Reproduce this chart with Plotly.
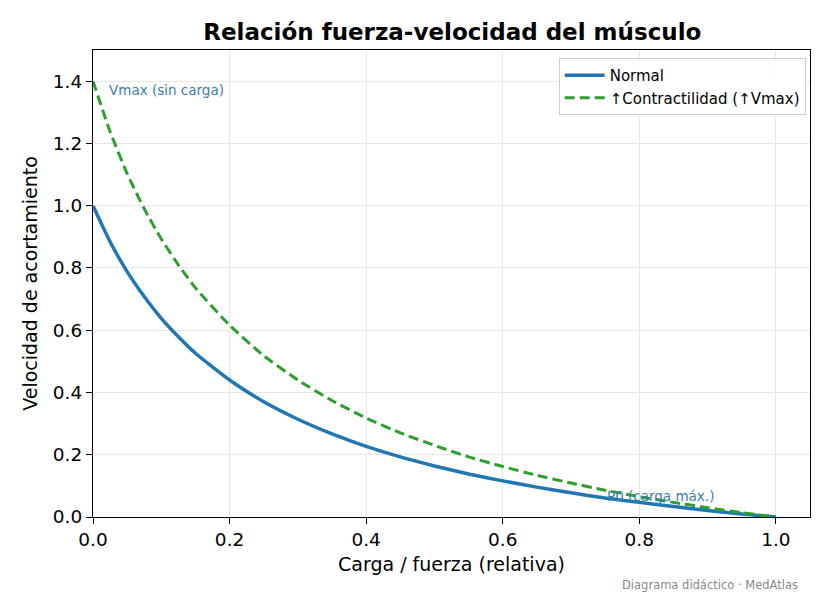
import plotly.graph_objects as go

# valores
carga = [0.0, 0.025, 0.05, 0.075, 0.1, 0.125, 0.15, 0.2, 0.25, 0.3, 0.35, 0.4, 0.45, 0.5,
         0.55, 0.6, 0.65, 0.7, 0.75, 0.8, 0.85, 0.9, 0.95, 1.0]
v_normal = [1.0, 0.884, 0.788, 0.708, 0.638, 0.579, 0.526, 0.440, 0.370, 0.314, 0.267, 0.227,
            0.193, 0.164, 0.138, 0.116, 0.096, 0.078, 0.061, 0.047, 0.034, 0.021, 0.010, 0.0]
v_contract = [1.4, 1.238, 1.103, 0.990, 0.893, 0.810, 0.736, 0.616, 0.518, 0.440, 0.374, 0.318,
              0.270, 0.230, 0.193, 0.162, 0.134, 0.109, 0.086, 0.065, 0.047, 0.030, 0.014, 0.0]
y_ticks = [0.0, 0.2, 0.4, 0.6, 0.8, 1.0, 1.2, 1.4]
x_ticks = [0.0, 0.2, 0.4, 0.6, 0.8, 1.0]

font = "DejaVu Sans"

fig = go.Figure()
fig.add_trace(go.Scatter(
    x=carga, y=v_normal, mode="lines", name="Normal",
    line=dict(color="#1f77b4", width=3.5, shape="spline", smoothing=0.5)
))
fig.add_trace(go.Scatter(
    x=carga, y=v_contract, mode="lines", name="↑Contractilidad (↑Vmax)",
    line=dict(color="#2ca02c", width=3, dash="10px,5px", shape="spline", smoothing=0.5)
))

fig.add_annotation(x=0.02, y=1.37, text="Vmax (sin carga)", showarrow=False,
                   xanchor="left", yanchor="middle",
                   font=dict(family=font, size=13.5, color="#3a7db0"))
fig.add_annotation(x=0.75, y=0.068, text="P0 (carga máx.)", showarrow=False,
                   xanchor="left", yanchor="middle",
                   font=dict(family=font, size=13.5, color="#3a7db0"))
fig.add_annotation(x=0.986, y=-0.146, xref="paper", yref="paper", xanchor="right", yanchor="middle",
                   text="Diagrama didáctico · MedAtlas", showarrow=False,
                   font=dict(family=font, size=11.5, color="#888888"))

axis_style = dict(showline=True, linecolor="black", linewidth=1.2, mirror=True,
                  ticks="outside", ticklen=6, tickcolor="black",
                  showgrid=True, gridcolor="#e6e6e6", gridwidth=1, zeroline=False,
                  tickfont=dict(family=font, size=18.5, color="black"))

fig.update_layout(
    width=832, height=598,
    paper_bgcolor="white", plot_bgcolor="white",
    margin=dict(l=85, r=30, t=42, b=89),
    title=dict(text="<b>Relación fuerza-velocidad del músculo</b>", x=0.534, xanchor="center",
               y=0.96, yanchor="middle", font=dict(family=font, size=23, color="black")),
    xaxis=dict(range=[0, 1.05], tickvals=x_ticks, ticktext=[f"{v:.1f}" for v in x_ticks],
               title=dict(text="Carga / fuerza (relativa)", font=dict(family=font, size=19, color="black"),
                          standoff=8),
               **axis_style),
    yaxis=dict(range=[0, 1.5], tickvals=y_ticks, ticktext=[f"{v:.1f}" for v in y_ticks],
               title=dict(text="Velocidad de acortamiento", font=dict(family=font, size=19, color="black"),
                          standoff=10),
               **axis_style),
    legend=dict(x=0.994, y=0.983, xanchor="right", yanchor="top",
                bgcolor="rgba(255,255,255,0.9)", bordercolor="#cccccc", borderwidth=1,
                itemwidth=40, font=dict(family=font, size=15, color="black")),
    showlegend=True,
)

fig.write_html("out.html")
